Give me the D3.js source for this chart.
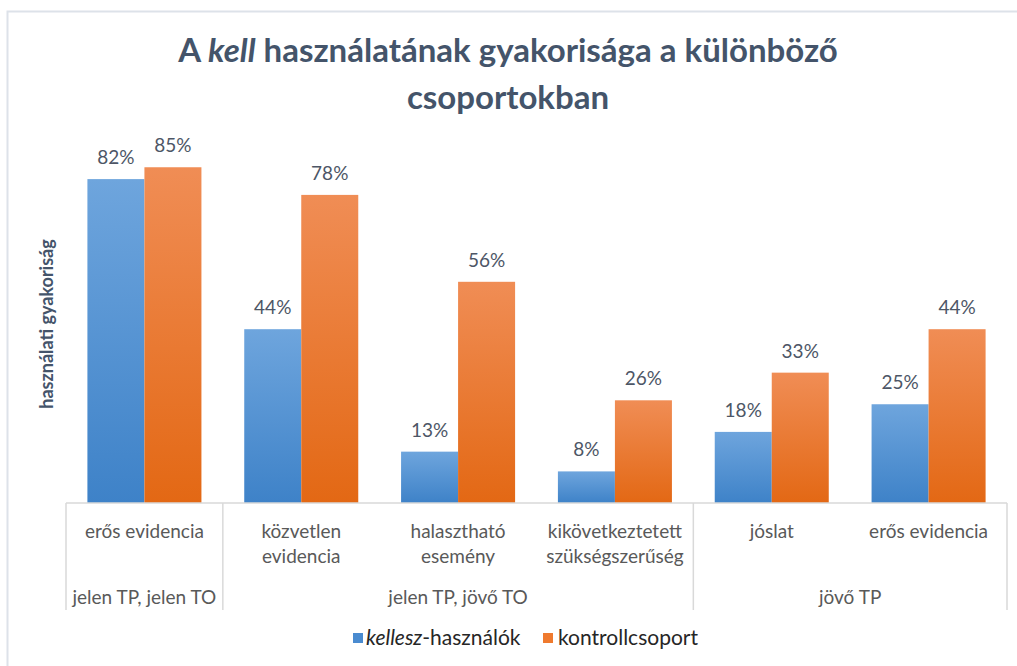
<!DOCTYPE html>
<html lang="hu">
<head>
<meta charset="UTF-8">
<title>A kell használatának gyakorisága</title>
<style>
    body { margin: 0; background: #fff; }
    svg text { font-family: Lato, "Open Sans", sans-serif; }
</style>
</head>
<body>
<svg id="chart" width="1017" height="666"></svg>
<script src="https://d3js.org/d3.v7.min.js"></script>
<script>
// categories (inner level), "\n" marks the line break used in the picture
var categories = ["erős evidencia", "közvetlen\nevidencia", "halasztható\nesemény",
                  "kikövetkeztetett\nszükségszerűség", "jóslat", "erős evidencia"];
// outer level of the axis and how many categories each one spans
var groupLabels = ["jelen TP, jelen TO", "jelen TP, jövő TO", "jövő TP"];
var groupSizes = [1, 3, 2];

var seriesNames = ["kellesz-használók", "kontrollcsoport"];
var kelleszValues = [0.82, 0.44, 0.13, 0.08, 0.18, 0.25];
var kontrollValues = [0.85, 0.78, 0.56, 0.26, 0.33, 0.44];

var svg = d3.select("#chart");

// chart frame
svg.append("rect")
    .attr("x", 7.5).attr("y", 11.5)
    .attr("width", 1100).attr("height", 700)
    .attr("fill", "none")
    .attr("stroke", "#dde2e9")
    .attr("stroke-width", 2);

var baseY = 503, left = 66, right = 1007;

var x0 = d3.scaleBand()
    .domain(d3.range(categories.length))
    .range([left, right])
    .paddingInner(0.273)
    .paddingOuter(0.1365);

var x1 = d3.scaleBand()
    .domain(seriesNames)
    .range([0, x0.bandwidth()]);

var y = d3.scaleLinear()
    .domain([0, 1])
    .range([baseY, 108]);

// gradients for the bars
var defs = svg.append("defs");
var grads = [["gBlue", "#6ea5dd", "#3e82c8"], ["gOrange", "#f08d55", "#e36814"]];
grads.forEach(function(g) {
    var lg = defs.append("linearGradient")
        .attr("id", g[0]).attr("x1", 0).attr("y1", 0).attr("x2", 0).attr("y2", 1);
    lg.append("stop").attr("offset", "0%").attr("stop-color", g[1]);
    lg.append("stop").attr("offset", "100%").attr("stop-color", g[2]);
});
var fills = { "kellesz-használók": "url(#gBlue)", "kontrollcsoport": "url(#gOrange)" };

var rows = categories.map(function(c, i) {
    return { i: i, values: [
        { key: seriesNames[0], v: kelleszValues[i] },
        { key: seriesNames[1], v: kontrollValues[i] }
    ]};
});

var groups = svg.selectAll(".cat")
    .data(rows)
    .enter().append("g")
    .attr("class", "cat")
    .attr("transform", function(d) { return "translate(" + x0(d.i) + ",0)"; });

groups.selectAll("rect")
    .data(function(d) { return d.values; })
    .enter().append("rect")
    .attr("x", function(d) { return x1(d.key); })
    .attr("y", function(d) { return y(d.v); })
    .attr("width", x1.bandwidth())
    .attr("height", function(d) { return baseY - y(d.v); })
    .attr("fill", function(d) { return fills[d.key]; });

groups.selectAll("text.val")
    .data(function(d) { return d.values; })
    .enter().append("text")
    .attr("class", "val")
    .attr("x", function(d) { return x1(d.key) + x1.bandwidth() / 2; })
    .attr("y", function(d) { return y(d.v) - 15; })
    .attr("text-anchor", "middle")
    .attr("font-size", 19)
    .attr("fill", "#4d5666")
    .text(function(d) { return d3.format(".0%")(d.v); });

// category axis
var axisColor = "#d9d9d9";
svg.append("g")
    .attr("transform", "translate(0," + baseY + ")")
    .call(d3.axisBottom(x0).tickSize(0).tickFormat(""))
    .call(function(g) {
        g.select(".domain").attr("stroke", axisColor).attr("stroke-width", 1.5)
            .attr("d", "M" + left + ",0H" + right);
    });

var step = x0.step();
var catLeft = function(i) { return left + i * step; };

groups.append("text")
    .attr("x", x0.bandwidth() / 2)
    .attr("y", baseY + 35)
    .attr("text-anchor", "middle")
    .attr("font-size", 19)
    .attr("fill", "#595959")
    .each(function(d) {
        var t = d3.select(this);
        categories[d.i].split("\n").forEach(function(line, k) {
            t.append("tspan").attr("x", x0.bandwidth() / 2).attr("dy", k ? 25 : 0).text(line);
        });
    });

// group separators and labels
var start = 0, bounds = [0];
groupSizes.forEach(function(n) { start += n; bounds.push(start); });

svg.selectAll("line.sep")
    .data(bounds)
    .enter().append("line")
    .attr("class", "sep")
    .attr("x1", function(b) { return catLeft(b); })
    .attr("x2", function(b) { return catLeft(b); })
    .attr("y1", baseY)
    .attr("y2", 610)
    .attr("stroke", axisColor)
    .attr("stroke-width", 1.5);

svg.selectAll("text.grp")
    .data(groupLabels)
    .enter().append("text")
    .attr("class", "grp")
    .attr("x", function(g, i) { return (catLeft(bounds[i]) + catLeft(bounds[i + 1])) / 2; })
    .attr("y", baseY + 101)
    .attr("text-anchor", "middle")
    .attr("font-size", 19)
    .attr("fill", "#595959")
    .text(function(g) { return g; });

// title
var title = svg.append("text")
    .attr("text-anchor", "middle")
    .attr("font-size", 33)
    .attr("font-weight", "bold")
    .attr("fill", "#44546a");
var l1 = title.append("tspan").attr("x", 508).attr("y", 62);
l1.append("tspan").text("A ");
l1.append("tspan").attr("font-style", "italic").text("kell");
l1.append("tspan").text(" használatának gyakorisága a különböző");
title.append("tspan").attr("x", 508).attr("y", 109).text("csoportokban");

// y axis title
svg.append("text")
    .attr("transform", "translate(53,324) rotate(-90)")
    .attr("text-anchor", "middle")
    .attr("font-size", 18)
    .attr("font-weight", "bold")
    .attr("fill", "#44546a")
    .text("használati gyakoriság");

// legend
var legend = svg.append("g").attr("transform", "translate(353,638)");
legend.append("rect").attr("x", 0).attr("y", -5).attr("width", 10).attr("height", 10).attr("fill", "#4a8bd0");
var lt = legend.append("text").attr("x", 13).attr("y", 7).attr("font-size", 21).attr("fill", "#262626");
lt.append("tspan").attr("font-style", "italic").text("kellesz");
lt.append("tspan").text("-használók");
legend.append("rect").attr("x", 190).attr("y", -5).attr("width", 10).attr("height", 10).attr("fill", "#ef7a2e");
legend.append("text").attr("x", 205).attr("y", 7).attr("font-size", 21).attr("fill", "#262626").text(seriesNames[1]);
</script>
</body>
</html>
